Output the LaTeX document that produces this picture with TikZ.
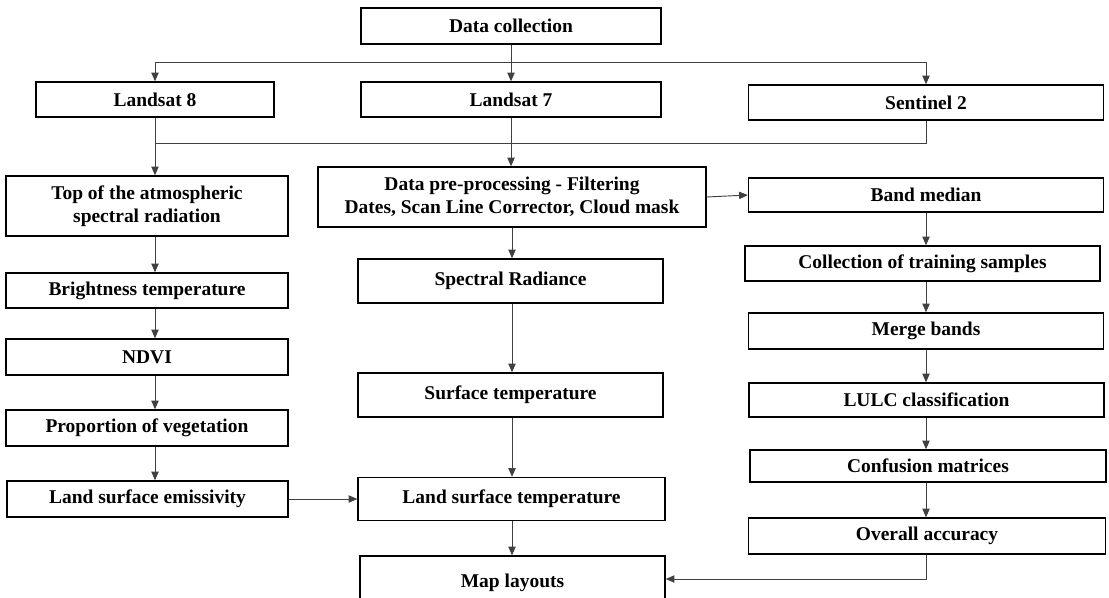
\documentclass[tikz,border=0pt]{standalone}
\usepackage{fontspec}
\setmainfont{Liberation Serif}
\usetikzlibrary{arrows.meta}

\begin{document}
\begin{tikzpicture}[x=0.75pt, y=-0.75pt,
        box/.style={draw, line width=1.1pt, align=center, inner sep=0pt,
            font=\fontsize{14.6}{17}\selectfont\bfseries},
        link/.style={line width=0.7pt, black!75},
        flow/.style={link, -{Triangle[length=6.5pt, width=5.5pt]}}]
        \useasboundingbox (0,0) rectangle (1109,597);
        \clip (0,0) rectangle (1109,597);

        % Sources
        \node[box, minimum width=225pt, minimum height=27pt] (dc) at (511,26) {Data collection};
        \node[box, minimum width=178.5pt, minimum height=26.25pt] (l8) at (155,99.5) {Landsat 8};
        \node[box, minimum width=225pt, minimum height=26.25pt] (l7) at (511,99.5) {Landsat 7};
        \node[box, minimum width=266.25pt, minimum height=26.25pt] (s2) at (926,102.5) {Sentinel 2};

        % Left column
        \node[box, minimum width=211.2pt, minimum height=45pt] (toa) at (147,206) {Top of the atmospheric\\spectral radiation};
        \node[box, minimum width=211.2pt, minimum height=26.25pt] (bt) at (147,290.5) {Brightness temperature};
        \node[box, minimum width=211.2pt, minimum height=27pt] (ndvi) at (147,357) {NDVI};
        \node[box, minimum width=211.2pt, minimum height=27pt] (pv) at (147,428) {Proportion of vegetation};
        \node[box, minimum width=210.75pt, minimum height=27pt] (lse) at (147.5,499) {Land surface emissivity};

        % Middle column
        \node[box, minimum width=291pt, minimum height=45pt] (pre) at (512,197) {Data pre-processing - Filtering\\Dates, Scan Line Corrector, Cloud mask};
        \node[box, minimum width=228.75pt, minimum height=33pt] (sr) at (510.5,281) {Spectral Radiance};
        \node[box, minimum width=228.75pt, minimum height=33pt] (st) at (510.5,395) {Surface temperature};
        \node[box, minimum width=230.25pt, minimum height=32.25pt] (lst) at (511.5,499) {Land surface temperature};
        \node[box, minimum width=228.75pt, minimum height=40.5pt] (ml) at (512.5,583) {Map layouts};

        % Right column
        \node[box, minimum width=266.25pt, minimum height=25.5pt] (bm) at (926,195) {Band median};
        \node[box, minimum width=266.25pt, minimum height=26.25pt] (cts) at (922.5,263.5) {Collection of training samples};
        \node[box, minimum width=266.25pt, minimum height=27pt] (mb) at (926,331) {Merge bands};
        \node[box, minimum width=266.25pt, minimum height=25.5pt] (lulc) at (926.5,400) {LULC classification};
        \node[box, minimum width=267pt, minimum height=24pt] (cm) at (928,466) {Confusion matrices};
        \node[box, minimum width=267.75pt, minimum height=27pt] (oa) at (927,536) {Overall accuracy};

        % Buses
        \coordinate (bus1) at (0,62);
        \coordinate (bus2) at (0,143);

        \draw[flow] (dc.south) -- (l7.north -| dc.south);
        \draw[link] (bus1 -| l8) -- (bus1 -| s2);
        \draw[flow] (bus1 -| l8) -- (l8.north);
        \draw[flow] (bus1 -| s2) -- (s2.north);

        \draw[link] (bus2 -| l8) -- (bus2 -| s2) -- (s2.south);
        \draw[flow] (l8.south) -- (toa.north -| l8);
        \draw[flow] (l7.south) -- (pre.north -| l7);
        \draw[flow] (pre.east) -- (bm.west);

        % Left chain
        \draw[flow] (toa.south -| l8) -- (bt.north -| l8);
        \draw[flow] (bt.south -| l8) -- (ndvi.north -| l8);
        \draw[flow] (ndvi.south -| l8) -- (pv.north -| l8);
        \draw[flow] (pv.south -| l8) -- (lse.north -| l8);
        \draw[flow] (lse.east) -- (lse.east -| lst.west);

        % Middle chain
        \draw[flow] (pre.south) -- (sr.north -| pre);
        \draw[flow] (sr.south -| pre) -- (st.north -| pre);
        \draw[flow] (st.south -| pre) -- (lst.north -| pre);
        \draw[flow] (lst.south -| pre) -- (ml.north -| pre);

        % Right chain
        \draw[flow] (bm.south) -- (cts.north -| bm);
        \draw[flow] (cts.south -| bm) -- (mb.north);
        \draw[flow] (mb.south) -- (lulc.north -| mb);
        \draw[flow] (lulc.south -| mb) -- (cm.north -| mb);
        \draw[flow] (cm.south -| mb) -- (oa.north -| mb);
        \draw[flow] (oa.south -| mb) |- ([yshift=3pt]ml.east);
\end{tikzpicture}
\end{document}
